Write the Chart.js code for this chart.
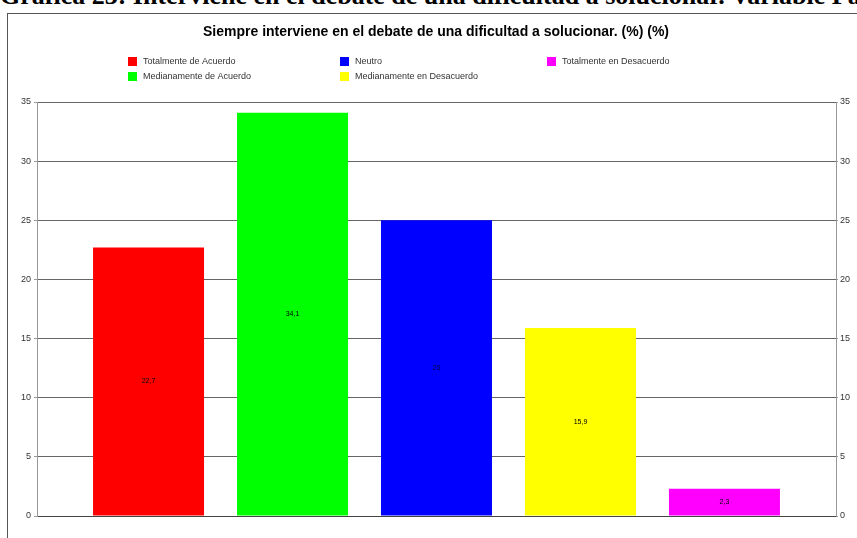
<!DOCTYPE html>
<html>
<head>
<meta charset="utf-8">
<script src="https://cdn.jsdelivr.net/npm/chart.js@4.4.1/dist/chart.umd.min.js"></script>
<style>
html, body { margin: 0; padding: 0; background: #fff; overflow: hidden; }
#wrap { position: relative; width: 857px; height: 538px; overflow: hidden; }
#heading { position: absolute; left: 0px; top: -17px; font: bold 26px "Liberation Serif", "Times New Roman", serif; line-height: 26px; white-space: nowrap; color: #000; }
#frame { position: absolute; left: 7px; top: 13px; width: 900px; height: 600px; border: 1px solid #555; box-sizing: border-box; }
canvas { position: absolute; left: 0; top: 0; }
</style>
</head>
<body>
<div id="wrap">
    <div id="heading">Gráfica 23: Interviene en el debate de una dificultad a solucionar. Variable Pares</div>
    <div id="frame"></div>
    <canvas id="chart" width="857" height="538"></canvas>
</div>
<script>
const chartTitle = 'Siempre interviene en el debate de una dificultad a solucionar. (%) (%)';
const categories = [''];
const seriesNames = ['Totalmente de Acuerdo', 'Medianamente de Acuerdo', 'Neutro', 'Medianamente en Desacuerdo', 'Totalmente en Desacuerdo'];
const seriesValues = [22.7, 34.1, 25, 15.9, 2.3];
const seriesColors = ['#ff0000', '#00ff00', '#0000ff', '#ffff00', '#ff00ff'];
const yMax = 35;
const yStep = 5;

const fontFamily = '"Liberation Sans", Arial, sans-serif';

// title, 3-column legend and the value in the middle of each bar
const extras = {
    id: 'extras',
    afterDraw(chart) {
        const ctx = chart.ctx;
        ctx.save();
        ctx.fillStyle = '#000';
        ctx.font = 'bold 14px ' + fontFamily;
        ctx.textAlign = 'center';
        ctx.textBaseline = 'middle';
        ctx.fillText(chartTitle, 436, 32);

        const colX = [128, 340, 547];
        const rowY = [62, 77];
        ctx.font = '9px ' + fontFamily;
        ctx.textAlign = 'left';
        chart.data.datasets.forEach((ds, i) => {
            const x = colX[Math.floor(i / 2)];
            const y = rowY[i % 2];
            ctx.fillStyle = ds.backgroundColor;
            ctx.fillRect(x, y - 5, 9, 9);
            ctx.fillStyle = '#333';
            ctx.fillText(ds.label, x + 15, y);
        });

        ctx.textAlign = 'center';
        ctx.font = '7px ' + fontFamily;
        ctx.fillStyle = '#000';
        chart.data.datasets.forEach((ds, i) => {
            const bar = chart.getDatasetMeta(i).data[0];
            const txt = String(ds.data[0]).replace('.', ',');
            ctx.fillStyle = i === 2 ? '#000040' : '#000';
            ctx.fillText(txt, bar.x, (bar.y + bar.base) / 2);
        });
        ctx.restore();
    }
};

const datasets = seriesNames.map((name, i) => ({
    label: name,
    data: [seriesValues[i]],
    backgroundColor: seriesColors[i],
    borderWidth: 0
}));

const tickFont = { size: 9, family: fontFamily };

new Chart(document.getElementById('chart'), {
    type: 'bar',
    data: { labels: categories, datasets: datasets },
    options: {
        responsive: false,
        animation: false,
        layout: { padding: { top: 102, left: 0, right: 0, bottom: 0 } },
        datasets: { bar: { categoryPercentage: 0.901, barPercentage: 0.771 } },
        plugins: {
            legend: { display: false },
            tooltip: { enabled: false }
        },
        scales: {
            x: {
                grid: { display: false },
                ticks: { display: false },
                border: { color: '#444' },
                afterFit(s) { s.height = 22; }
            },
            y: {
                position: 'left',
                min: 0,
                max: yMax,
                ticks: { stepSize: yStep, color: '#333', font: tickFont, padding: 3 },
                grid: { color: '#666', tickLength: 3, tickColor: '#999' },
                border: { color: '#999' },
                afterFit(s) { s.width = 37; }
            },
            y2: {
                position: 'right',
                min: 0,
                max: yMax,
                ticks: { stepSize: yStep, color: '#333', font: tickFont, padding: 2 },
                grid: { drawOnChartArea: false, tickLength: 2, tickColor: '#999' },
                border: { color: '#999' },
                afterFit(s) { s.width = 21; }
            }
        }
    },
    plugins: [extras]
});
</script>
</body>
</html>
